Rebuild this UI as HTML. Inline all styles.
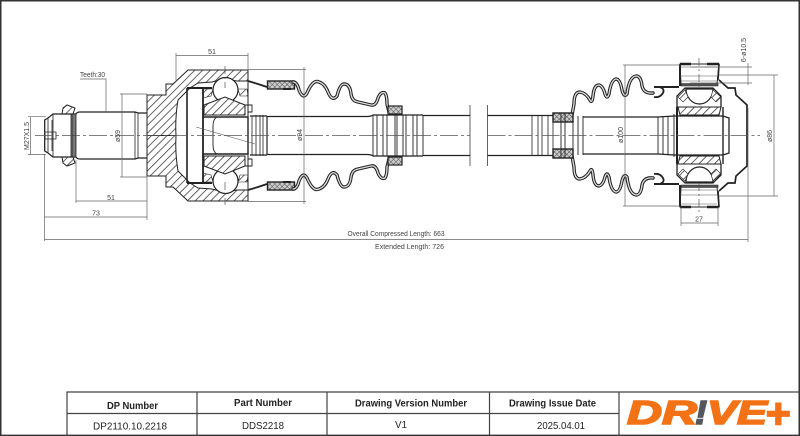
<!DOCTYPE html>
<html><head><meta charset="utf-8"><style>
html,body{margin:0;padding:0;background:#fff}
svg{display:block}
text{font-family:"Liberation Sans",sans-serif}
.d{fill:#444;font-size:7px}
.t{fill:#222}
</style></head><body>
<svg width="800" height="436" viewBox="0 0 800 436" xmlns="http://www.w3.org/2000/svg">
<defs>
<pattern id="h1" patternUnits="userSpaceOnUse" width="5.5" height="5.5" patternTransform="rotate(45)"><rect width="5.5" height="5.5" fill="#fff"/><path d="M0 0V5.5" stroke="#333" stroke-width="1.5"/></pattern>
<pattern id="h2" patternUnits="userSpaceOnUse" width="5.5" height="5.5" patternTransform="rotate(-45)"><rect width="5.5" height="5.5" fill="#fff"/><path d="M0 0V5.5" stroke="#333" stroke-width="1.5"/></pattern>
<pattern id="x" patternUnits="userSpaceOnUse" width="3.5" height="3.5" patternTransform="rotate(45)"><rect width="3.5" height="3.5" fill="#ccc"/><path d="M0 0V3.5M0 0H3.5" stroke="#444" stroke-width=".9"/></pattern>
<g id="hs" stroke="#222" stroke-width="1">
<path d="M147 95H166V84H173L188 70H248V81H237Q225 78 212 82L198 83L190 88L178 100Q175 118 176 135.500H147Z"/>
<circle cx="225.500" cy="90" r="12.500" fill="#fff" stroke-width="1.200"/>
<path d="M204 105L225 97L245 105V115H204Z"/>
<path d="M62 114L63 108L67 105L75 108L73 114Z"/>
<path d="M686 89A13.500 15 0 0 0 713 89Z" fill="#fff" stroke-width="1.200"/>
<path d="M678 107H721L719 115H680Z"/>
<path d="M203 89H213L211 96L203 98Z" stroke-width=".6"/>
<path d="M238 89H247L248 96L240 96Z" stroke-width=".6"/>
<path d="M678 97L685 90L688 97L683 102Z" stroke-width=".6"/>
<path d="M721 97L713 90L711 97L716 102Z" stroke-width=".6"/>
</g>
<g id="half" fill="none" stroke="#222" stroke-width="1">
<!-- stub -->
<path d="M44.700 135.500V120L48 118L53 114H76Q77 112 80 112H135L138 113H147" stroke-width="1.200"/>
<path d="M53 114V135.500M48 118V135.500M71 114V135.500" stroke-width=".8"/>
<path d="M72 114H76V135.500H72Z" fill="#777" stroke-width=".8"/>
<path d="M135 112V135.500M138 113V135.500" stroke-width=".8"/>
<!-- joint -->
<path d="M187 88H212" stroke-width="2"/>
<path d="M187 88V135.500" stroke-width="1.600"/>
<path d="M203 89V135.500" stroke-width="1.800"/>
<path d="M203 117H248V135.500" stroke-width="1.400"/>
<path d="M217 117Q213 119 213 126V135.500" stroke-width=".9"/>
<path d="M248 81V117" stroke-width="1"/>
<path d="M245 105H252V112H248" stroke-width=".9"/>
<!-- left strap + boot -->
<path d="M248 81L258 84L267 87" stroke-width="1.800"/>
<rect x="267.500" y="81" width="27" height="8" fill="url(#x)" stroke-width="1.400"/>
<path d="M283 89H291" stroke-width="2"/>
<g stroke-linecap="round">
<path d="M293 82Q297 82 299 90Q303 100 307 93Q313 79 319 82Q325 84 328 92Q332 102 337 96Q340 84 344 84Q350 84 351 94Q352 101 358 102L371 105Q376 106 378 98Q381 91 385 93Q387 96 387 104L389 112" stroke="#222" stroke-width="3.400"/>
<path d="M293 82Q297 82 299 90Q303 100 307 93Q313 79 319 82Q325 84 328 92Q332 102 337 96Q340 84 344 84Q350 84 351 94Q352 101 358 102L371 105Q376 106 378 98Q381 91 385 93Q387 96 387 104L389 112" stroke="#ddd" stroke-width="1.300"/>
</g>
<rect x="388" y="106" width="14" height="8" fill="url(#x)" stroke-width="1.200"/>
<!-- shaft -->
<path d="M250 116H267" stroke-width="1.200"/>
<path d="M267 116.500H367Q371 116.500 373 115H423M423 115.500H470M487.500 115.500H553" stroke-width="1.200"/>
<!-- right boot -->
<g stroke-linecap="round">
<path d="M572 115L574 104Q574 92 580 92Q586 93 590 100Q592 104 593 96Q594 85 599 85Q603 86 605 94Q607 100 609 94Q611 80 616 79Q620 79 622 90Q624 98 627 94Q629 77 636 76Q641 76 642 86Q644 94 653 93" stroke="#222" stroke-width="3.400"/>
<path d="M572 115L574 104Q574 92 580 92Q586 93 590 100Q592 104 593 96Q594 85 599 85Q603 86 605 94Q607 100 609 94Q611 80 616 79Q620 79 622 90Q624 98 627 94Q629 77 636 76Q641 76 642 86Q644 94 653 93" stroke="#ddd" stroke-width="1.300"/>
</g>
<path d="M654 87H679" stroke-width="2"/>
<path d="M654 87H660Q665 89 663 93Q660 98 654 97" stroke-width="1.800"/>
<rect x="553" y="113" width="20" height="9" fill="url(#x)" stroke-width="1.400"/>
<path d="M583 117H658L674 116" stroke-width="1.200"/>
<path d="M674 116H723L729 118V135.500" stroke-width="1.300"/>
<!-- bearing -->
<path d="M680 64H719L717 84H681Z" stroke-width="1"/>
<path d="M680 64V86" stroke-width="2"/>
<path d="M719 64L718 80" stroke-width="1.600"/>
<path d="M680 64H691M707 64H719" stroke-width="2.400"/>
<path d="M681 83.500H718V86H681Z" fill="#555" stroke-width=".6"/>
<path d="M681 67H717M680 76H718M681 81H718" stroke-width=".6" stroke="#555"/>
<path d="M677 107V96L685 88H713L721 96V107" stroke-width="1.300"/>
<path d="M719 80L728 88H735L736 95L747 105V135.500" stroke-width="1.700"/>
</g>
</defs>

<rect width="800" height="436" fill="#fff"/>
<!-- page border -->
<path d="M.75 436V.75H799.250V436M0 435.400H800" fill="none" stroke="#333" stroke-width="1.500"/>

<use href="#hs" fill="url(#h1)"/>
<use href="#hs" fill="url(#h2)" transform="matrix(1 0 0 -1 0 271)"/>
<use href="#half"/>
<use href="#half" transform="matrix(1 0 0 -1 0 271)"/>

<!-- shaft verticals -->
<g stroke="#222" fill="none" stroke-width="1">
<path d="M252 116V155M256 115V156M260 115V156M263 115V156" stroke-width=".8"/>
<path d="M267 116V155" stroke-width="1.200"/>
<path d="M373 115V156M377 115V156M383 115V156M387 115V156M395 115V156M397 115V156M403 115V156M406 115V156M413 115V156M417 115V156M423 115V156" stroke-width=".9"/>
<path d="M470 105V166M487.500 105V166" stroke-width=".7"/>
<path d="M532 115.500V155.500M538 115.500V155.500M542 115.500V155.500M548 115.500V155.500M553 113V158" stroke-width=".8"/>
<path d="M561 113V158M565 113V158M573 115V156M578 116V155M583 116V155" stroke-width=".9"/>
<path d="M658 117V154M663 117V154M668 117V154M674 114V157" stroke-width=".9"/>
<path d="M677 107V164" stroke-width="2"/>
<path d="M723 107V164" stroke-width="1.400"/>
<path d="M729 118V153" stroke-width="1"/>
<path d="M44.700 120V151M52 120V151" stroke-width=".8"/>
<path d="M45 132H56V139H45Z" stroke-width=".8"/>
</g>

<!-- centre lines -->
<path d="M35 135.500H470M487.500 135.500H760" stroke="#555" stroke-width=".7" fill="none" stroke-dasharray="18 3 3 3"/>
<path d="M225 66V88M225 182V205M699 58V88M699 183V214" stroke="#555" stroke-width=".7" fill="none" stroke-dasharray="8 3 2 3"/>
<path d="M196 127L255 144" stroke="#555" stroke-width=".6"/>

<!-- dimensions -->
<g stroke="#666" stroke-width=".7" fill="none">
<path d="M28 116.700H46M28 154.500H46M30.500 116.700V154.500"/>
<path d="M80 79H106V112"/>
<path d="M120 94H147M120 177H147M122 94V177"/>
<path d="M176 53V82M248 53V70M176 55.500H248"/>
<path d="M76 160V203M147 177V220M76 201H147"/>
<path d="M44.500 154V241M44.500 217H147M44.500 239.500H748M748 108V242"/>
<path d="M248 69.500H306M248 201.500H306M304 67V204"/>
<path d="M625 65V206M623 65H680M623 206H680"/>
<path d="M719 75H778M719 196H778M774 75V196"/>
<path d="M690 67H752M690 83H752M748 63V85"/>
<path d="M681 207V226M718 207V226M681 223H718"/>
</g>
<g class="d">
<text x="208" y="54" textLength="8" lengthAdjust="spacingAndGlyphs">51</text>
<text x="80" y="77" textLength="25" lengthAdjust="spacingAndGlyphs">Teeth:30</text>
<text x="111" y="200" text-anchor="middle">51</text>
<text x="96" y="215.500" text-anchor="middle">73</text>
<text x="699" y="221.500" text-anchor="middle">27</text>
<text x="347.500" y="236" textLength="97" lengthAdjust="spacingAndGlyphs">Overall Compressed Length: 663</text>
<text x="375" y="249" textLength="69" lengthAdjust="spacingAndGlyphs">Extended Length: 726</text>
<text transform="translate(29,136) rotate(-90)" text-anchor="middle">M27X1.5</text>
<text transform="translate(120,136) rotate(-90)" text-anchor="middle">ø59</text>
<text transform="translate(302,135) rotate(-90)" text-anchor="middle">ø94</text>
<text transform="translate(623,135) rotate(-90)" text-anchor="middle">ø100</text>
<text transform="translate(772,136) rotate(-90)" text-anchor="middle">ø86</text>
<text transform="translate(746,50) rotate(-90)" text-anchor="middle">6-ø10.5</text>
</g>

<!-- table -->
<g fill="none" stroke="#444" stroke-width="1.200">
<path d="M67 435V392H799"/>
<path d="M67 413.500H619"/>
<path d="M197 392V435M327 392V435M489.500 392V435M619 392V435"/>
</g>
<g class="t" font-weight="bold" font-size="10">
<text x="107" y="409" textLength="51" lengthAdjust="spacingAndGlyphs">DP Number</text>
<text x="234" y="406" textLength="58" lengthAdjust="spacingAndGlyphs">Part Number</text>
<text x="355" y="406.500" textLength="112" lengthAdjust="spacingAndGlyphs">Drawing Version Number</text>
<text x="509" y="406.500" textLength="87" lengthAdjust="spacingAndGlyphs">Drawing Issue Date</text>
</g>
<g class="t" font-size="10.500">
<text x="93" y="429.500" textLength="74" lengthAdjust="spacingAndGlyphs">DP2110.10.2218</text>
<text x="242" y="429" textLength="42" lengthAdjust="spacingAndGlyphs">DDS2218</text>
<text x="395" y="428" textLength="12" lengthAdjust="spacingAndGlyphs">V1</text>
<text x="537" y="429" textLength="48" lengthAdjust="spacingAndGlyphs">2025.04.01</text>
</g>

<!-- logo -->
<g font-weight="bold" font-style="italic" font-size="33" fill="#f47216" stroke="#f47216" stroke-width="1.600">
<text x="627" y="424" textLength="70" lengthAdjust="spacingAndGlyphs">DR</text>
<text x="695" y="424" textLength="12" lengthAdjust="spacingAndGlyphs" fill="#54585c" stroke="#54585c">!</text>
<text x="707" y="424" textLength="60" lengthAdjust="spacingAndGlyphs">VE</text>
<text x="765" y="428" font-size="42" textLength="25" lengthAdjust="spacingAndGlyphs">+</text>
</g>
</svg>
</body></html>
